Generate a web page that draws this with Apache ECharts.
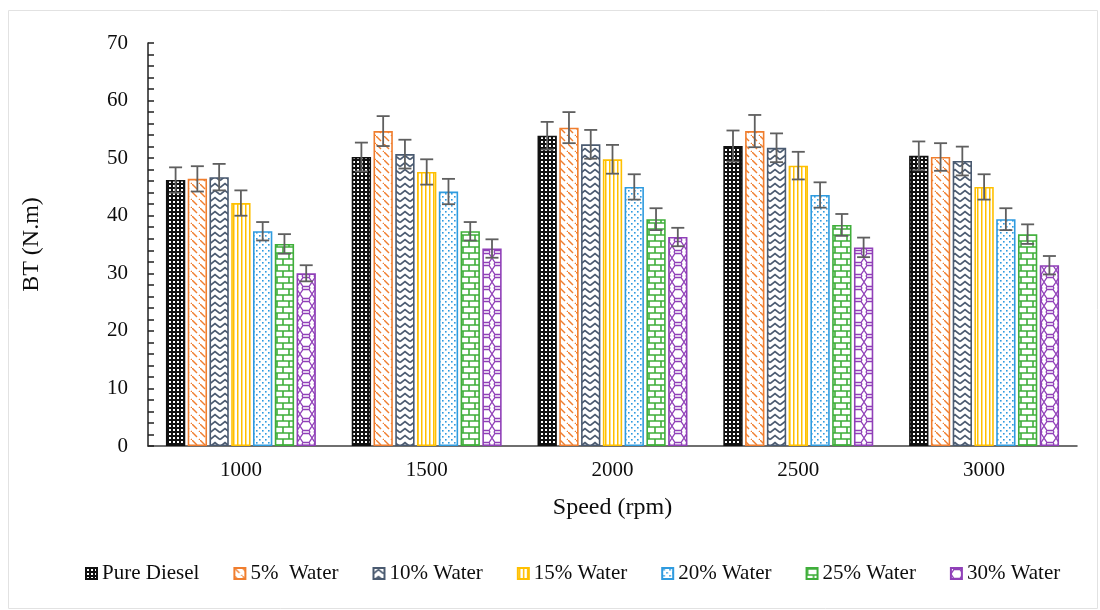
<!DOCTYPE html>
<html>
<head>
<meta charset="utf-8">
<script src="https://cdn.jsdelivr.net/npm/echarts@6/dist/echarts.min.js"></script>
<style>
  html, body { margin: 0; padding: 0; background: #fff; }
  #chart { width: 1100px; height: 610px; }
</style>
</head>
<body>
<div id="chart"></div>
<script>
// ---- data ----
const categories = ['1000', '1500', '2000', '2500', '3000'];
const seriesNames = ['Pure Diesel', '5%  Water', '10% Water', '15% Water', '20% Water', '25% Water', '30% Water'];
const pureDiesel = [46.2, 50.2, 53.9, 52.1, 50.4];
const water5  = [46.4, 54.7, 55.3, 54.7, 50.2];
const water10 = [46.7, 50.7, 52.4, 51.8, 49.5];
const water15 = [42.2, 47.6, 49.8, 48.7, 45.0];
const water20 = [37.3, 44.2, 45.0, 43.6, 39.4];
const water25 = [35.1, 37.3, 39.4, 38.4, 36.8];
const water30 = [30.0, 34.3, 36.3, 34.5, 31.4];
const errPD  = [2.2, 2.5, 2.4, 2.7, 2.5];
const err5   = [2.2, 2.6, 2.7, 2.8, 2.4];
const err10  = [2.3, 2.5, 2.5, 2.5, 2.5];
const err15  = [2.2, 2.2, 2.5, 2.4, 2.2];
const err20  = [1.6, 2.2, 2.2, 2.2, 1.9];
const err25  = [1.7, 1.6, 1.9, 1.9, 1.7];
const err30  = [1.4, 1.6, 1.6, 1.7, 1.6];
const yTicks = [0, 10, 20, 30, 40, 50, 60, 70];

const values = [pureDiesel, water5, water10, water15, water20, water25, water30];
const errors = [errPD, err5, err10, err15, err20, err25, err30];
const colors = ['#111111', '#F07E2E', '#4A5A70', '#FFC000', '#2F9BDF', '#3FAE3A', '#9040B8'];

// ---- patterns ----
function makePattern(w, h, draw) {
  const c = document.createElement('canvas');
  c.width = w; c.height = h;
  const ctx = c.getContext('2d');
  ctx.fillStyle = '#fff';
  ctx.fillRect(0, 0, w, h);
  draw(ctx);
  return { image: c, repeat: 'repeat' };
}
const patterns = [
  makePattern(4, 4, ctx => { ctx.fillStyle = colors[0]; ctx.fillRect(0, 0, 4, 4); ctx.fillStyle = '#fff'; ctx.fillRect(1, 1, 2, 2); }),
  makePattern(8, 8, ctx => { ctx.strokeStyle = colors[1]; ctx.lineWidth = 1.4; ctx.beginPath(); ctx.moveTo(-1, -1); ctx.lineTo(5, 5); ctx.stroke(); ctx.beginPath(); ctx.moveTo(7, 7); ctx.lineTo(9, 9); ctx.stroke(); }),
  makePattern(10, 7, ctx => { ctx.strokeStyle = colors[2]; ctx.lineWidth = 1.7; ctx.beginPath(); ctx.moveTo(0, 5.5); ctx.lineTo(5, 1.5); ctx.lineTo(10, 5.5); ctx.stroke(); }),
  makePattern(4, 4, ctx => { ctx.fillStyle = colors[3]; ctx.fillRect(1, 0, 1.5, 4); }),
  makePattern(6, 6, ctx => { ctx.fillStyle = colors[4]; ctx.fillRect(1, 1, 1.6, 1.6); ctx.fillRect(4, 4, 1.6, 1.6); }),
  makePattern(12, 12, ctx => { ctx.strokeStyle = colors[5]; ctx.lineWidth = 1.6; ctx.beginPath();
    ctx.moveTo(0, 1); ctx.lineTo(12, 1); ctx.moveTo(0, 7); ctx.lineTo(12, 7);
    ctx.moveTo(1, 1); ctx.lineTo(1, 7); ctx.moveTo(7, 7); ctx.lineTo(7, 13); ctx.moveTo(7, -1); ctx.lineTo(7, 1); ctx.stroke(); }),
  makePattern(12, 12, ctx => { ctx.strokeStyle = colors[6]; ctx.lineWidth = 1.3; ctx.beginPath();
    ctx.moveTo(0, 6); ctx.lineTo(3, 1.5); ctx.lineTo(9, 1.5); ctx.lineTo(12, 6); ctx.lineTo(9, 10.5); ctx.lineTo(3, 10.5); ctx.closePath();
    ctx.moveTo(3, 1.5); ctx.lineTo(2, 0); ctx.moveTo(9, 1.5); ctx.lineTo(10, 0);
    ctx.moveTo(3, 10.5); ctx.lineTo(2, 12); ctx.moveTo(9, 10.5); ctx.lineTo(10, 12); ctx.stroke(); })
];

const CAT_GAP = 0.193;
const BAR_GAP = 0.126;
const N = seriesNames.length;

const barSeries = seriesNames.map((name, i) => ({
  name: name,
  type: 'bar',
  yAxisIndex: 0,
  data: values[i],
  barCategoryGap: (CAT_GAP * 100) + '%',
  barGap: (BAR_GAP * 100) + '%',
  itemStyle: { color: patterns[i], borderColor: colors[i], borderWidth: 1.6 },
  emphasis: { disabled: true }
}));

const errData = [];
for (let s = 0; s < N; s++) {
  for (let c = 0; c < categories.length; c++) {
    errData.push([c, values[s][c], errors[s][c], s]);
  }
}

const errSeries = {
  name: 'errorbars',
  type: 'custom',
  yAxisIndex: 0,
  z: 10,
  encode: { x: 0, y: 1 },
  data: errData,
  renderItem: function (params, api) {
    const c = api.value(0), v = api.value(1), e = api.value(2), s = api.value(3);
    const catW = api.size([1, 0])[0];
    const usable = catW * (1 - CAT_GAP);
    const bw = usable / (N + (N - 1) * BAR_GAP);
    const off = (s - (N - 1) / 2) * bw * (1 + BAR_GAP);
    const top = api.coord([c, v + e]);
    const bot = api.coord([c, v - e]);
    const x = top[0] + off;
    const hw = 6.5;
    const st = { stroke: '#5f5f5f', lineWidth: 1.8 };
    return {
      type: 'group',
      children: [
        { type: 'line', shape: { x1: x, y1: top[1], x2: x, y2: bot[1] }, style: st },
        { type: 'line', shape: { x1: x - hw, y1: top[1], x2: x + hw, y2: top[1] }, style: st },
        { type: 'line', shape: { x1: x - hw, y1: bot[1], x2: x + hw, y2: bot[1] }, style: st }
      ]
    };
  }
};

const FONT = 'Liberation Serif';
const TXT = '#0d0d0d';
const chart = echarts.init(document.getElementById('chart'), null, { renderer: 'canvas' });
chart.setOption({
  animation: false,
  backgroundColor: '#fff',
  graphic: [{
    type: 'rect', silent: true, z: -1,
    shape: { x: 8.5, y: 10.5, width: 1089, height: 598 },
    style: { fill: 'none', stroke: '#e2e2e2', lineWidth: 1 }
  }],
  grid: { left: 148, right: 23, top: 43, bottom: 164 },
  legend: {
    data: seriesNames,
    left: 80, top: 558,
    icon: 'rect',
    itemWidth: 11, itemHeight: 11,
    itemGap: 34,
    textStyle: { fontFamily: FONT, fontSize: 21, color: TXT },
    selectedMode: false
  },
  xAxis: {
    type: 'category',
    data: categories,
    name: 'Speed (rpm)',
    nameLocation: 'middle',
    nameGap: 50,
    nameTextStyle: { fontFamily: FONT, fontSize: 24, color: TXT },
    axisLine: { lineStyle: { color: '#404040', width: 1.5 } },
    axisTick: { show: false },
    axisLabel: { fontFamily: FONT, fontSize: 21, color: TXT, margin: 14 }
  },
  yAxis: [{
    type: 'value',
    min: yTicks[0], max: yTicks[yTicks.length - 1], interval: 10,
    name: 'BT (N.m)',
    nameLocation: 'middle',
    nameGap: 104,
    nameTextStyle: { fontFamily: FONT, fontSize: 24, color: TXT },
    axisLine: { show: true, lineStyle: { color: '#202020', width: 1.5 } },
    axisTick: { show: false },
    splitLine: { show: false },
    axisLabel: { fontFamily: FONT, fontSize: 21, color: TXT, margin: 20 }
  }, {
    type: 'value',
    position: 'left',
    min: 0, max: 70, interval: 2,
    axisLine: { show: false },
    axisTick: { show: true, inside: true, length: 6, lineStyle: { color: '#202020', width: 1.5 } },
    axisLabel: { show: false },
    splitLine: { show: false }
  }],
  series: barSeries.concat([errSeries])
});
</script>
</body>
</html>
